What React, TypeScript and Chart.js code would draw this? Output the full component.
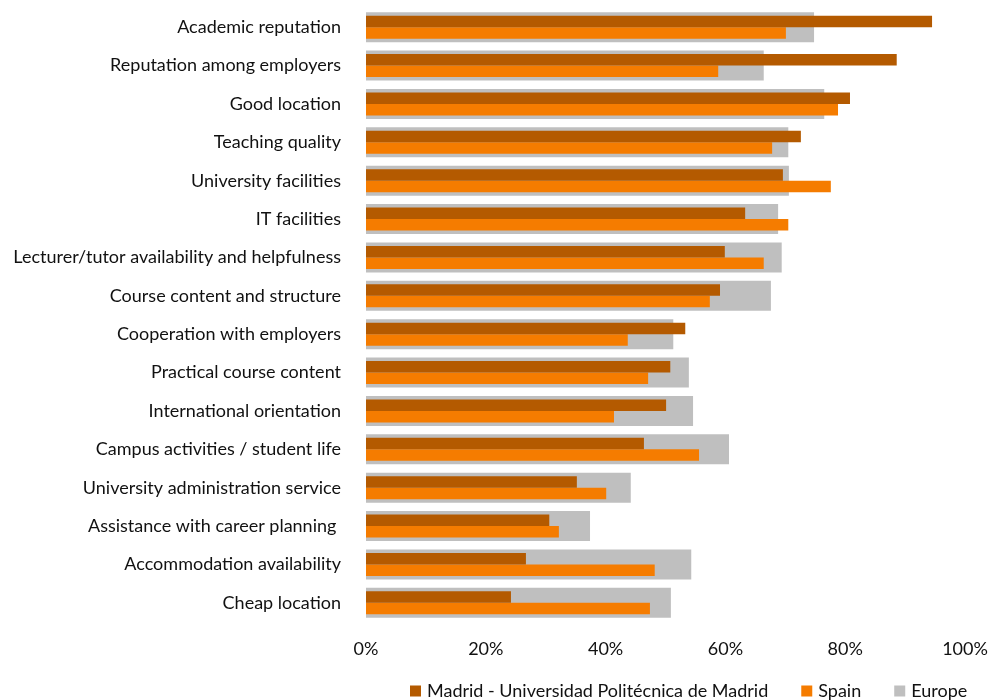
import React, { useEffect, useRef } from "react";
import { Chart, registerables } from "chart.js";

Chart.register(...registerables);

const categories = [
  "Academic reputation",
  "Reputation among employers",
  "Good location",
  "Teaching quality",
  "University facilities",
  "IT facilities",
  "Lecturer/tutor availability and helpfulness",
  "Course content and structure",
  "Cooperation with employers",
  "Practical course content",
  "International orientation",
  "Campus activities / student life",
  "University administration service",
  "Assistance with career planning ",
  "Accommodation availability",
  "Cheap location",
];

const seriesNames = ["Madrid - Universidad Politécnica de Madrid", "Spain", "Europe"];

const madrid = [94.5, 88.6, 80.8, 72.6, 69.6, 63.3, 59.9, 59.1, 53.3, 50.8, 50.1, 46.4, 35.2, 30.6, 26.7, 24.2];
const spain = [70.1, 58.8, 78.8, 67.8, 77.6, 70.5, 66.4, 57.4, 43.7, 47.1, 41.4, 55.6, 40.1, 32.2, 48.2, 47.4];
const europe = [74.8, 66.4, 76.5, 70.5, 70.6, 68.8, 69.4, 67.6, 51.3, 53.9, 54.6, 60.6, 44.2, 37.4, 54.3, 50.9];

const xMin = 0;
const xMax = 100;
const xStep = 20;

const FONT_FAMILY = "Lato";
const FONT_SIZE = 18;
const TEXT_COLOR = "#111111";
const COLORS = ["#B45A00", "#F57C00", "#BFBFBF"];

const bottomLegend = {
  id: "bottomLegend",
  afterDraw(chart: any) {
    const ctx = chart.ctx as CanvasRenderingContext2D;
    ctx.save();
    ctx.font = `${FONT_SIZE}px ${FONT_FAMILY}`;
    ctx.textBaseline = "middle";
    ctx.textAlign = "left";
    const box = 11;
    const yc = 691;
    let x = 410;
    chart.data.datasets.forEach((ds: any) => {
      ctx.fillStyle = ds.backgroundColor;
      ctx.fillRect(x, yc - box / 2, box, box);
      ctx.fillStyle = TEXT_COLOR;
      ctx.fillText(ds.label, x + box + 6, yc);
      x += box + 6 + ctx.measureText(ds.label).width + 33;
    });
    ctx.restore();
  },
};

export default function App() {
  const ref = useRef<HTMLCanvasElement | null>(null);

  useEffect(() => {
    document.body.style.margin = "0";
    if (!ref.current) return;
    const font = { family: FONT_FAMILY, size: FONT_SIZE };
    const chart = new Chart(ref.current, {
      type: "bar",
      data: {
        labels: categories,
        datasets: [
          {
            label: seriesNames[0],
            data: madrid,
            backgroundColor: COLORS[0],
            borderWidth: 0,
            categoryPercentage: 0.6,
            barPercentage: 1,
          },
          {
            label: seriesNames[1],
            data: spain,
            backgroundColor: COLORS[1],
            borderWidth: 0,
            categoryPercentage: 0.6,
            barPercentage: 1,
          },
          {
            label: seriesNames[2],
            data: europe,
            backgroundColor: COLORS[2],
            borderWidth: 0,
            grouped: false,
            categoryPercentage: 1,
            barPercentage: 0.78,
          },
        ],
      },
      options: {
        indexAxis: "y",
        responsive: false,
        maintainAspectRatio: false,
        animation: false,
        layout: { padding: { top: 8, right: 24, bottom: 0, left: 0 } },
        plugins: {
          legend: { display: false },
          tooltip: { enabled: false },
        },
        scales: {
          x: {
            min: xMin,
            max: xMax,
            ticks: {
              stepSize: xStep,
              callback: (v: any) => `${v}%`,
              padding: 16,
              font,
              color: TEXT_COLOR,
              maxRotation: 0,
            },
            grid: { display: false, drawTicks: false },
            border: { display: false },
            afterFit: (s: any) => {
              s.height = 78;
              s.paddingLeft = 0;
              s.paddingRight = 0;
            },
          },
          y: {
            ticks: { padding: 25, font, color: TEXT_COLOR, autoSkip: false },
            grid: { display: false, drawTicks: false },
            border: { display: false },
            afterFit: (s: any) => {
              s.width = 366;
              s.paddingTop = 0;
              s.paddingBottom = 0;
            },
          },
        },
      } as any,
      plugins: [bottomLegend],
    });
    return () => chart.destroy();
  }, []);

  return <canvas ref={ref} width={989} height={700} style={{ display: "block" }} />;
}
